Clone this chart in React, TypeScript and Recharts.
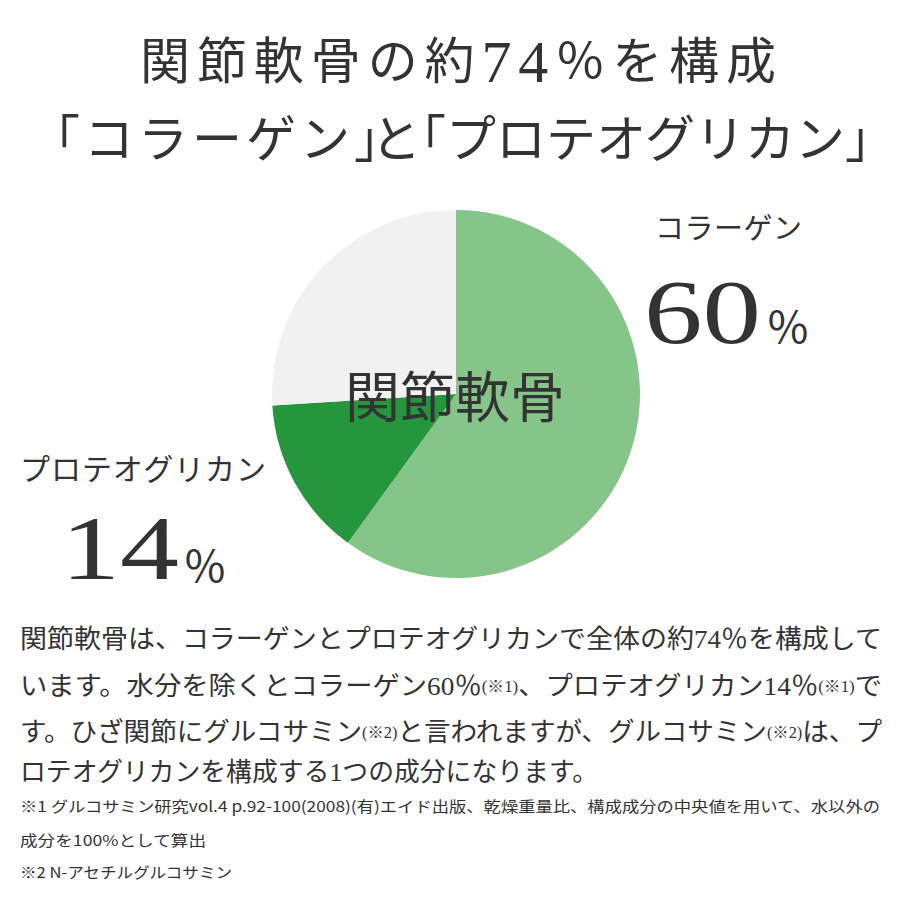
import { PieChart, Pie, Cell } from 'recharts'

const parts = ['コラーゲン', 'プロテオグリカン', 'その他']
const shares = [60, 14, 26]
const colors = ['#86c58a', '#24963b', '#f1f1f1']

const titleTop = ['関節軟骨の約', '74', '％を構成']
// second title line split where the brackets need tighter spacing
const titleBottom = ['「コラーゲン」', 'と', '「プロテオグリカン」']
const centerLabel = '関節軟骨'

// paragraph lines: [text, isNote]
const bodyLines: [string, boolean][][] = [
  [['関節軟骨は、コラーゲンとプロテオグリカンで全体の約74％を構成して', false]],
  [['います。水分を除くとコラーゲン60％', false], ['(※1)', true], ['、プロテオグリカン14％', false], ['(※1)', true], ['で', false]],
  [['す。ひざ関節にグルコサミン', false], ['(※2)', true], ['と言われますが、グルコサミン', false], ['(※2)', true], ['は、プ', false]],
  [['ロテオグリカンを構成する1つの成分になります。', false]],
]
const notes = [
  '※1 グルコサミン研究vol.4 p.92-100(2008)(有)エイド出版、乾燥重量比、構成成分の中央値を用いて、水以外の',
  '成分を100%として算出',
  '※2 N-アセチルグルコサミン',
]

const data = parts.map((name, i) => ({ name, value: shares[i] }))

const ink = '#333333'
const serif = "'Liberation Serif', 'Noto Sans CJK JP', serif"
const jp = "'Noto Sans CJK JP', sans-serif"

export default function App() {
  return (
    <div style={{ position: 'absolute', left: 0, top: 0, width: 900, height: 900, background: '#fff' }}>
      <PieChart width={900} height={900} margin={{ top: 0, right: 0, bottom: 0, left: 0 }} style={{ position: 'absolute', left: 0, top: 0 }}>
        <Pie
          data={data}
          dataKey="value"
          nameKey="name"
          cx={456}
          cy={394}
          outerRadius={184}
          startAngle={90}
          endAngle={-270}
          stroke="none"
          isAnimationActive={false}
        >
          {data.map((d, i) => <Cell key={d.name} fill={colors[i]} />)}
        </Pie>
      </PieChart>
      <svg width={900} height={900} style={{ position: 'absolute', left: 0, top: 0, pointerEvents: 'none' }}>
        <g fill={ink} fontFamily={jp}>
          <text x={140} y={62} fontSize={50} fontFamily={serif} dominantBaseline="central" textLength={636} lengthAdjust="spacing">
            <tspan>{titleTop[0]}</tspan>
            <tspan fontSize={60}>{titleTop[1]}</tspan>
            <tspan>{titleTop[2]}</tspan>
          </text>
          <text y={135} fontSize={50} dominantBaseline="central">
            <tspan x={30} letterSpacing={4}>{titleBottom[0]}</tspan>
            <tspan x={371}>{titleBottom[1]}</tspan>
            <tspan x={396}>{titleBottom[2]}</tspan>
          </text>

          <text x={455} y={393} fontSize={55} textAnchor="middle" dominantBaseline="central">{centerLabel}</text>

          <text x={655} y={226} fontSize={29} dominantBaseline="central" textLength={147} lengthAdjust="spacing">{parts[0]}</text>
          <text x={644} y={312} fontSize={92} fontFamily={serif} dominantBaseline="central" textLength={117} lengthAdjust="spacingAndGlyphs">{shares[0]}</text>
          <text x={766} y={325} fontSize={44} dominantBaseline="central">％</text>

          <text x={20} y={467} fontSize={30} dominantBaseline="central" textLength={246} lengthAdjust="spacing">{parts[1]}</text>
          <text x={61} y={548} fontSize={92} fontFamily={serif} dominantBaseline="central" textLength={118} lengthAdjust="spacingAndGlyphs">{shares[1]}</text>
          <text x={183} y={564} fontSize={44} dominantBaseline="central">％</text>

          {bodyLines.map((line, li) => (
            <text
              key={li}
              x={20}
              y={[639, 686, 732, 772][li]}
              fontSize={26}
              fontFamily={serif}
              dominantBaseline="central"
              textLength={li < 3 ? 862 : 578}
              lengthAdjust="spacingAndGlyphs"
            >
              {line.map(([t, note], si) => (
                <tspan key={si} fontSize={note ? 16 : 26}>{t}</tspan>
              ))}
            </text>
          ))}

          {notes.map((n, i) => (
            <text
              key={i}
              x={20}
              y={[805, 839, 871][i]}
              fontSize={15}
              dominantBaseline="central"
              textLength={[860, 186, 212][i]}
              lengthAdjust="spacingAndGlyphs"
            >{n}</text>
          ))}
        </g>
      </svg>
    </div>
  )
}
